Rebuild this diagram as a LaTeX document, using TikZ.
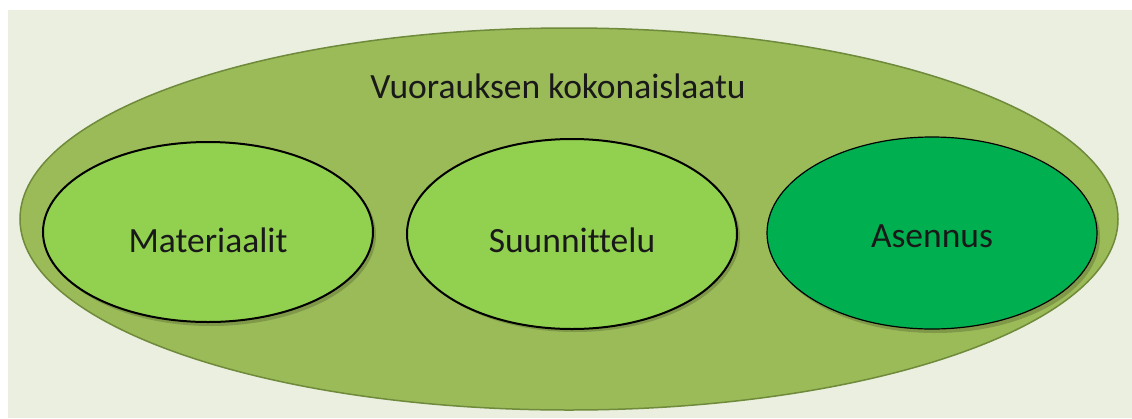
\documentclass[tikz,border=0pt]{standalone}
\usepackage{fontspec}
\setmainfont[Ligatures={NoCommon}]{Carlito}
\usetikzlibrary{shapes.geometric}
\definecolor{bgpanel}{HTML}{EBEFE0}
\definecolor{outerfill}{HTML}{9BBB59}
\definecolor{outerline}{HTML}{6E8A3A}
\definecolor{lightgreen}{HTML}{92D050}
\definecolor{darkgreen}{HTML}{00B050}
\tikzset{
  outerell/.style={ellipse, draw=outerline, line width=1.5pt, fill=outerfill, inner sep=0pt},
  innerell/.style={ellipse, draw=black, line width=2pt, inner sep=0pt, minimum width=330pt},
  shadowell/.style={ellipse, fill=black, opacity=0.18, inner sep=0pt, minimum width=330pt},
  labeltext/.style={font=\fontsize{35.5}{40}\selectfont, text=black!90, inner sep=0pt}
}
\begin{document}
\begin{tikzpicture}[x=1pt,y=-1pt]
\useasboundingbox (0,0) rectangle (1132,418);
\fill[white] (0,0) rectangle (1132,418);
\fill[bgpanel] (8,10) rectangle (1132,418);
\node[outerell, minimum width=1098pt, minimum height=382pt] (outer) at (569,219) {};
\node[labeltext] (title) at (558,86) {Vuorauksen kokonaislaatu};
\node[shadowell, minimum height=182pt] (sh1) at (211,235) {};
\node[shadowell, minimum height=190pt] (sh2) at (575,237) {};
\node[shadowell, minimum height=192pt] (sh3) at (935,237) {};
\node[innerell, fill=lightgreen, minimum height=180pt] (mat) at (208,232) {};
\node[innerell, fill=lightgreen, minimum height=190pt] (suu) at (572,234) {};
\node[innerell, fill=darkgreen, line width=1.2pt, minimum height=192pt] (ase) at (932,233) {};
\node[labeltext] (matlabel) at (208,240) {Materiaalit};
\node[labeltext] (suulabel) at (572,240) {Suunnittelu};
\node[labeltext] (aselabel) at (932,236) {Asennus};
\end{tikzpicture}
\end{document}
